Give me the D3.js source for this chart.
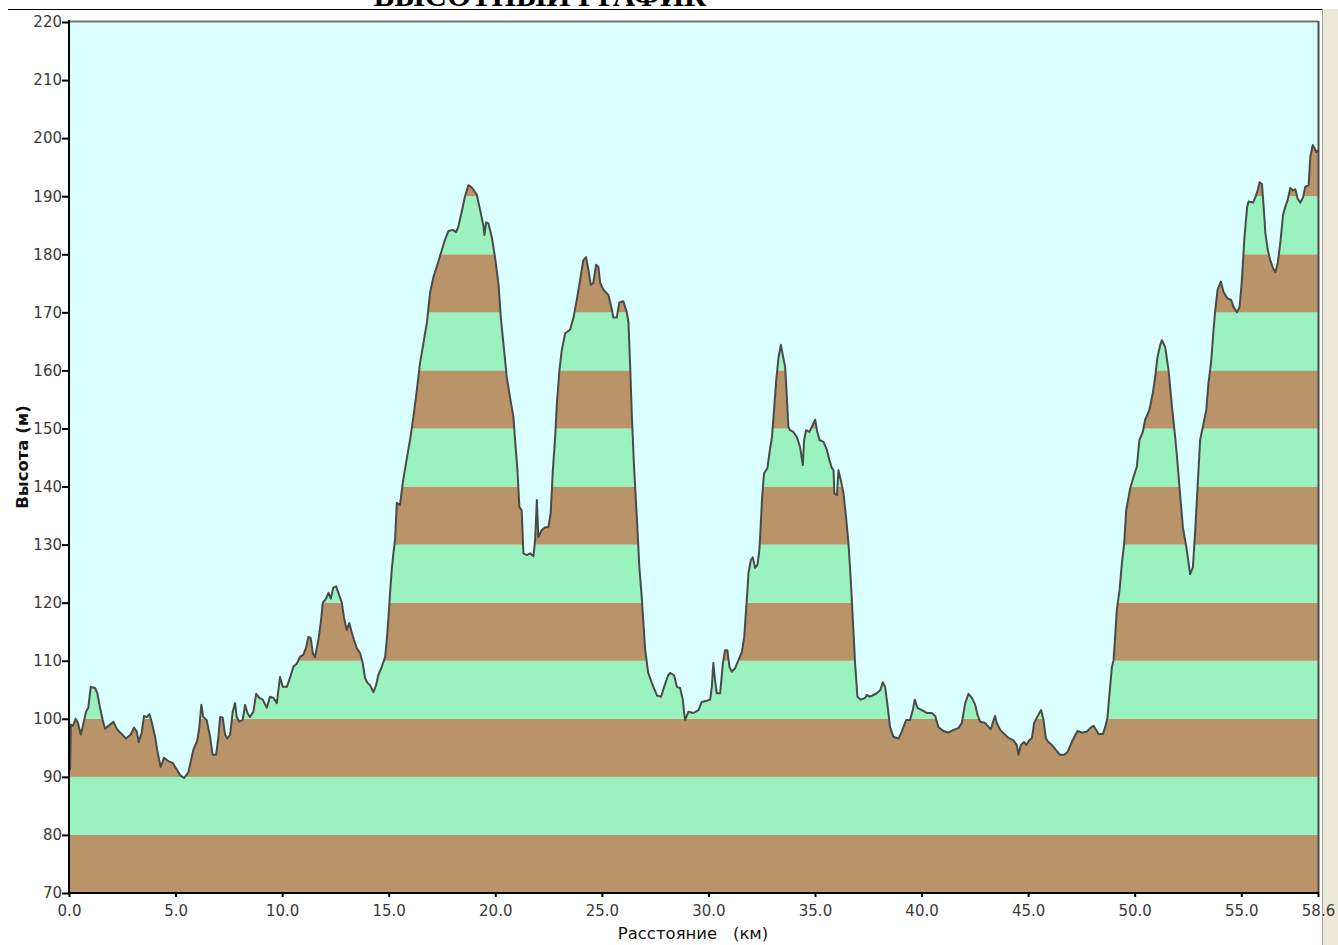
<!DOCTYPE html>
<html>
<head>
<meta charset="utf-8">
<script src="https://cdn.jsdelivr.net/npm/d3@7/dist/d3.min.js"></script>
<style>
  body { margin: 0; background: #fff; }
  svg { display: block; }
</style>
</head>
<body>
<script>
// profile: distance (km) and height (m)
var distKm = [0,0.05,0.09,0.19,0.31,0.42,0.55,0.64,0.80,0.91,1.02,1.22,1.33,1.45,1.58,1.69,1.92,2.08,2.27,2.47,
  2.67,2.90,3.05,3.18,3.27,3.41,3.52,3.65,3.77,3.88,4.04,4.14,4.30,4.46,4.66,4.87,5.05,5.21,5.40,5.60,
  5.83,6.02,6.11,6.21,6.30,6.46,6.62,6.74,6.90,7.01,7.09,7.21,7.32,7.43,7.56,7.68,7.79,7.87,7.99,8.15,
  8.26,8.37,8.49,8.65,8.78,8.93,9.09,9.28,9.43,9.59,9.75,9.90,10.03,10.22,10.40,10.53,10.69,10.84,10.99,11.12,
  11.23,11.34,11.44,11.54,11.70,11.81,11.91,12.06,12.17,12.28,12.40,12.53,12.64,12.80,12.90,13.03,13.15,13.27,13.37,13.50,
  13.66,13.78,13.89,14.00,14.12,14.28,14.41,14.51,14.67,14.83,14.91,14.98,15.06,15.14,15.22,15.30,15.38,15.53,15.66,15.81,
  16.00,16.16,16.32,16.47,16.63,16.79,16.94,17.10,17.25,17.49,17.64,17.80,18.01,18.16,18.27,18.43,18.58,18.74,18.90,19.13,
  19.29,19.44,19.49,19.57,19.68,19.84,19.99,20.15,20.26,20.38,20.54,20.69,20.85,20.93,21.04,21.13,21.24,21.32,21.48,21.63,
  21.79,21.87,21.95,22.02,22.18,22.34,22.49,22.60,22.70,22.81,22.89,23.01,23.12,23.28,23.51,23.67,23.82,23.98,24.13,24.26,
  24.37,24.48,24.60,24.73,24.84,24.92,25.07,25.31,25.47,25.54,25.70,25.82,26.01,26.17,26.25,26.33,26.41,26.51,26.64,26.76,
  26.87,27.03,27.17,27.36,27.59,27.78,27.92,28.11,28.20,28.39,28.52,28.67,28.80,28.86,28.91,29.06,29.30,29.53,29.69,29.92,
  30.08,30.16,30.23,30.31,30.39,30.55,30.68,30.78,30.89,30.99,31.10,31.25,31.41,31.57,31.68,31.80,31.88,31.99,32.08,32.19,
  32.30,32.39,32.46,32.52,32.61,32.77,32.86,32.98,33.08,33.18,33.29,33.40,33.49,33.60,33.68,33.75,33.83,33.99,34.15,34.30,
  34.43,34.49,34.58,34.74,34.85,35.01,35.09,35.21,35.40,35.56,35.68,35.79,35.87,35.91,36.03,36.10,36.21,36.34,36.46,36.57,
  36.68,36.80,36.88,36.99,37.15,37.35,37.43,37.59,37.74,37.90,38.06,38.18,38.29,38.39,38.52,38.68,38.92,39.07,39.28,39.46,
  39.59,39.68,39.81,40.01,40.25,40.48,40.64,40.79,41.03,41.26,41.50,41.73,41.89,42.05,42.20,42.36,42.52,42.62,42.75,42.98,
  43.14,43.25,43.34,43.45,43.53,43.69,43.88,44.08,44.31,44.47,44.55,44.66,44.81,44.91,45.06,45.18,45.28,45.41,45.53,45.61,
  45.72,45.83,45.95,46.11,46.31,46.50,46.69,46.85,47.05,47.21,47.32,47.52,47.76,47.91,48.07,48.19,48.30,48.51,48.62,48.72,
  48.82,48.93,49.01,49.16,49.29,49.40,49.51,49.60,49.79,49.94,50.10,50.22,50.38,50.49,50.69,50.85,50.96,51.07,51.20,51.28,
  51.43,51.59,51.75,51.90,52.01,52.14,52.26,52.42,52.53,52.60,52.73,52.84,52.95,53.07,53.23,53.36,53.46,53.58,53.70,53.78,
  53.89,54.04,54.17,54.33,54.53,54.64,54.80,54.92,55.03,55.14,55.27,55.34,55.55,55.66,55.76,55.86,55.97,56.05,56.13,56.24,
  56.36,56.49,56.60,56.71,56.83,56.96,57.07,57.18,57.30,57.43,57.54,57.64,57.77,57.90,58.00,58.16,58.24,58.35,58.44,58.52,
  58.60];

var elevM = [91,91.5,99,98.8,100,99.3,97.3,98.6,101.2,102,105.5,105.3,104.4,102,99.8,98.3,99,99.5,98.1,97.4,
  96.6,97.3,98.5,97.8,96,97.6,100.5,100.3,100.8,99.5,96.9,94.6,91.7,93.3,92.7,92.4,91.3,90.3,89.8,90.8,
  94.6,96.3,98.4,102.4,100.3,99.8,96.9,93.8,93.8,96.9,100.3,100.2,97.3,96.6,97.3,101.2,102.7,100.3,99.5,99.8,
  102.4,101,100.3,101.2,104.3,103.6,103.3,101.9,103.8,103.6,102.7,107.2,105.5,105.5,107.4,109,109.5,110.7,111,112.2,
  114.1,113.9,111.3,110.6,113.6,116.5,120,120.7,121.7,120.7,122.6,122.8,121.7,120,117.5,115.3,116.5,114.8,113.6,112.2,
  111.3,109.6,107,106.2,105.8,104.6,105.8,107.5,108.9,110.6,113.6,117,121.5,125.6,128.5,131,137.2,136.8,140.7,144,
  148,152,156.6,161.3,164.7,168.2,173.4,176.1,177.8,180.7,182.5,184,184.2,183.8,184.8,187.4,190,191.9,191.5,190.3,
  187.6,185,183.3,185.5,185.3,182.9,179.4,174.9,169.1,164.7,158.8,155.4,152,148,142.8,136.5,135.9,128.5,128.2,128.5,
  128,130.8,137.7,131.3,132.5,133,133,135.4,142.8,148.5,154.3,160,163.5,166.4,167,169.1,172.1,175.6,179,179.5,
  177.3,174.7,175.1,178.2,177.8,175.1,173.9,173,170.5,169.1,169.1,171.7,171.9,170,168.2,160.6,152,143.4,134.8,126.1,
  121,112,108,106,104,103.8,105.5,107.5,107.9,107.5,105.5,105.3,103.3,101,99.8,101.2,101,101.5,102.9,103.1,
  103.3,105.5,109.6,106.7,104.4,104.4,109.6,111.8,111.8,108.9,108.1,108.7,110.1,111.5,114.1,120.5,125.1,127.3,127.8,126,
  126.5,129,133.7,138.2,142.3,143.2,145.7,148.5,153.2,158.3,162.3,164.4,162.6,160.6,155.4,150.3,149.7,149.4,148.5,146.8,
  143.7,148,149.7,149.4,150.3,151.5,149.7,148,147.7,146.3,144.5,143.2,142.8,138.8,138.5,142.8,141.1,138.8,134.6,130.2,
  123.9,115.3,109.6,103.8,103.3,103.6,104.1,103.8,104.1,104.4,104.9,106.3,105.5,102.7,98.6,96.9,96.6,97.8,99.8,99.8,
  101.5,103.3,101.9,101.5,101,101,100.5,98.6,97.9,97.6,98.1,98.4,99.3,102.7,104.3,103.6,102.4,100.7,99.5,99.3,
  98.6,98.2,99.3,100.5,99.3,98.1,97.4,96.7,96.3,95.5,93.8,95.5,96,95.5,96.3,96.7,99.3,100.2,101,101.5,
  99.8,96.7,96,95.5,94.6,93.8,93.8,94.3,96,97.2,97.9,97.6,97.8,98.4,98.8,98.1,97.4,97.4,98.6,100.2,
  104.4,108.9,110.1,118.7,122.2,126.8,130.3,135.9,139.7,141.6,143.4,148,149.4,151.5,153.2,156.1,158.9,162.3,164.4,165.2,
  164,160,153.7,148.5,144,138.2,133,129.6,126.8,124.9,126.1,132.5,139.9,148,150.9,153.2,157.8,161.3,167,170.4,
  173.9,175.3,173.5,172.5,172.1,170.9,170,170.9,175.6,182.5,188,189.1,188.9,189.8,190.9,192.4,192.1,188.2,183.7,180.8,
  179,177.6,176.9,178.5,181.9,186.8,188.2,189.4,191.4,191,191.2,189.6,188.9,189.8,191.6,191.9,196.8,198.8,198.3,197.6,
  197.9];

var xTicks = [0, 5, 10, 15, 20, 25, 30, 35, 40, 45, 50, 55, 58.6];
var yTicks = [70, 80, 90, 100, 110, 120, 130, 140, 150, 160, 170, 180, 190, 200, 210, 220];
var bandEdges = [70, 80, 90, 100, 110, 120, 130, 140, 150, 160, 170, 180, 190, 200, 210, 220];
var bandColors = ["#b89468", "#9af3bf"];

var W = 1338, H = 945;
var plotL = 69, plotR = 1318, plotT = 22, plotB = 893;
var labelFont = "'DejaVu Sans', Tahoma, Verdana, sans-serif";

var svg = d3.select("body").append("svg")
    .attr("width", W)
    .attr("height", H);

var x = d3.scaleLinear().domain([0, 58.6]).range([plotL, plotR]);
var y = d3.scaleLinear().domain([70, 220]).range([plotB, plotT]);

var pts = distKm.map(function(d, i) { return [d, elevM[i]]; });

// title, mostly scrolled off the top
svg.append("text")
    .attr("x", 540)
    .attr("y", 6)
    .attr("text-anchor", "middle")
    .style("font-family", "'Liberation Serif', 'Times New Roman', serif")
    .style("font-weight", "bold")
    .style("font-size", "31px")
    .text("ВЫСОТНЫЙ ГРАФИК");

svg.append("line")
    .attr("x1", 8).attr("x2", 1322)
    .attr("y1", 9.5).attr("y2", 9.5)
    .style("stroke", "#000");

// right grey strip
svg.append("rect")
    .attr("x", 1323).attr("y", 9)
    .attr("width", W - 1323).attr("height", H - 9)
    .style("fill", "#ece9d8");
svg.append("line")
    .attr("x1", 1322.5).attr("x2", 1322.5)
    .attr("y1", 9).attr("y2", H)
    .style("stroke", "#a0a0a0");

// plot background
svg.append("rect")
    .attr("x", plotL).attr("y", plotT)
    .attr("width", plotR - plotL).attr("height", plotB - plotT)
    .style("fill", "#dafffe");

var area = d3.area()
    .x(function(d) { return x(d[0]); })
    .y0(plotB)
    .y1(function(d) { return y(d[1]); });

svg.append("clipPath").attr("id", "under")
  .append("path")
    .attr("d", area(pts));

var bands = d3.range(bandEdges.length - 1).map(function(i) {
  return { lo: bandEdges[i], hi: bandEdges[i + 1], c: bandColors[i % 2] };
});

svg.append("g")
    .attr("clip-path", "url(#under)")
  .selectAll("rect")
    .data(bands)
  .enter().append("rect")
    .attr("x", plotL)
    .attr("width", plotR - plotL)
    .attr("y", function(d) { return y(d.hi); })
    .attr("height", function(d) { return y(d.lo) - y(d.hi); })
    .style("fill", function(d) { return d.c; });

var line = d3.line()
    .x(function(d) { return x(d[0]); })
    .y(function(d) { return y(d[1]); });

svg.append("path")
    .attr("d", line(pts))
    .style("fill", "none")
    .style("stroke", "#4a4a4a")
    .style("stroke-width", 2)
    .style("stroke-linejoin", "round");

// frame: grey top, dark right
svg.append("line")
    .attr("x1", plotL).attr("x2", plotR)
    .attr("y1", plotT - 0.5).attr("y2", plotT - 0.5)
    .style("stroke", "#6f7472").style("stroke-width", 2);
svg.append("line")
    .attr("x1", plotR + 0.5).attr("x2", plotR + 0.5)
    .attr("y1", plotT - 1).attr("y2", plotB)
    .style("stroke", "#4d4d4d").style("stroke-width", 2);

// axes
var yAxis = d3.axisLeft(y)
    .tickValues(yTicks)
    .tickSize(7)
    .tickPadding(0)
    .tickFormat(d3.format("d"));

var xAxis = d3.axisBottom(x)
    .tickValues(xTicks)
    .tickSize(4)
    .tickPadding(8)
    .tickFormat(d3.format(".1f"));

var gy = svg.append("g")
    .attr("transform", "translate(" + plotL + ",0)")
    .call(yAxis);
var gx = svg.append("g")
    .attr("transform", "translate(0," + plotB + ")")
    .call(xAxis);

[gx, gy].forEach(function(g) {
  g.select(".domain").style("stroke", "#000").style("stroke-width", 2);
  g.selectAll(".tick line").style("stroke", "#000").style("stroke-width", 2);
  g.selectAll(".tick text")
      .style("font-family", labelFont)
      .style("font-size", "15px")
      .style("fill", "#3a3a3a");
});
gx.select(".domain").attr("d", "M" + (plotL - 1) + ",0H" + (plotR + 1));
gy.select(".domain").attr("d", "M0," + (plotT - 2) + "V" + (plotB + 1));

svg.append("text")
    .attr("x", 693)
    .attr("y", 939)
    .attr("text-anchor", "middle")
    .attr("xml:space", "preserve")
    .style("white-space", "pre")
    .style("font-family", labelFont)
    .style("font-size", "16.5px")
    .style("fill", "#111")
    .text("Расстояние   (км)");

svg.append("text")
    .attr("transform", "translate(28,457) rotate(-90)")
    .attr("text-anchor", "middle")
    .style("font-family", labelFont)
    .style("font-weight", "bold")
    .style("font-size", "16.5px")
    .style("fill", "#111")
    .text("Высота (м)");
</script>
</body>
</html>
